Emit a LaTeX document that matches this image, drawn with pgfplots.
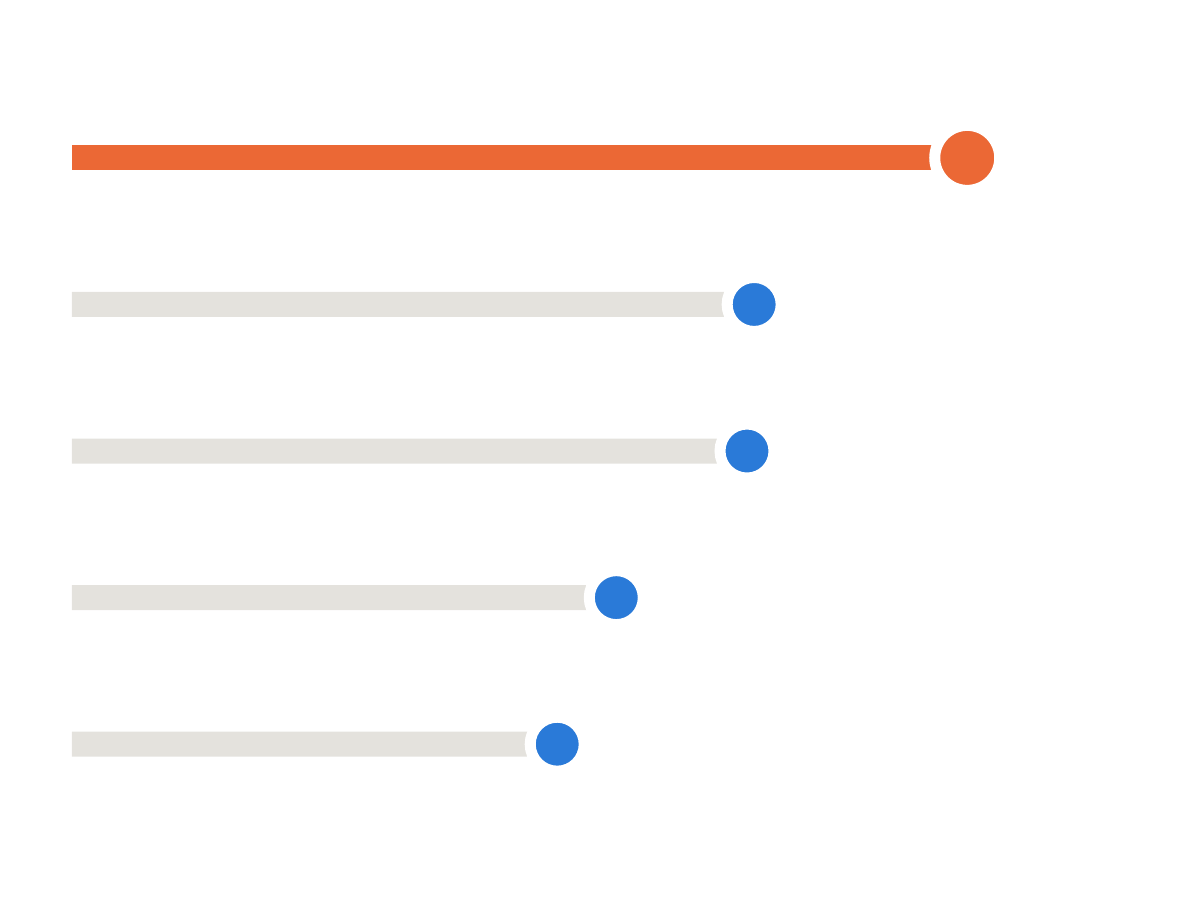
\documentclass[border=0pt]{standalone}
\usepackage{pgfplots}
\pgfplotsset{compat=1.18}
\definecolor{hiOrange}{RGB}{235,104,53}
\definecolor{dotBlue}{RGB}{42,122,216}
\definecolor{barGray}{RGB}{228,226,221}
\begin{document}
\begin{tikzpicture}
\begin{axis}[
scale only axis,
width=600pt, height=450pt,
hide axis,
clip=false,
xmin=-8.04, xmax=126.0,
ymin=-1.077, ymax=5.063,
y dir=reverse,
]
% invisible frame so the page keeps the full size
\addplot[draw=none, forget plot] coordinates {(-8.04,-1.077)(126.0,5.063)};
% bars
\addplot[xbar, bar width=12.5pt, bar shift=0pt, fill=hiOrange, draw=none, forget plot]
coordinates {(100,0)};
\addplot[xbar, bar width=12.5pt, bar shift=0pt, fill=barGray, draw=none, forget plot]
coordinates {(76.2,1)(75.4,2)(60.8,3)(54.2,4)};
% dots
\addplot[only marks, mark=*, mark size=16.25pt,
mark options={fill=hiOrange, draw=white, line width=5.5pt}]
coordinates {(100,0)};
\addplot[only marks, mark=*, mark size=13.5pt,
mark options={fill=dotBlue, draw=white, line width=5.5pt}]
coordinates {(76.2,1)(75.4,2)(60.8,3)(54.2,4)};
\end{axis}
\end{tikzpicture}
\end{document}
